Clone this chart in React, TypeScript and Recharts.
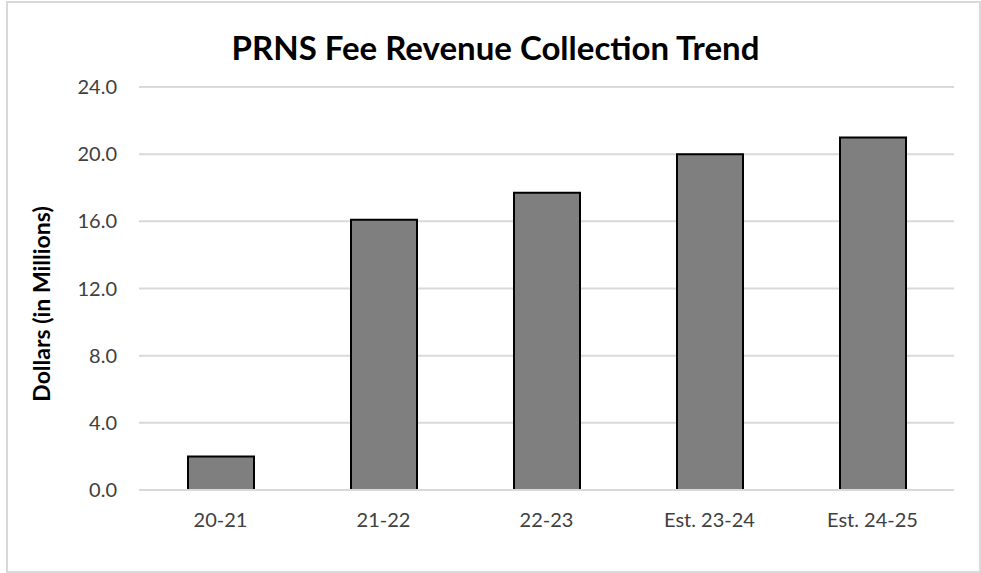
import React from "react";
import { BarChart, Bar, XAxis, YAxis, CartesianGrid } from "recharts";

const categories = ["20-21", "21-22", "22-23", "Est. 23-24", "Est. 24-25"];
const revenue = [2.0, 16.1, 17.7, 20.0, 21.0];
const yTicks = [0, 4, 8, 12, 16, 20, 24];

const data = categories.map((c, i) => ({ name: c, value: revenue[i] }));

const FONT = "Lato, 'Open Sans', sans-serif";

export default function App() {
  return (
    <div style={{ position: "absolute", left: 0, top: 0, width: 981, height: 573, background: "#fff", fontFamily: FONT }}>
      <div
        style={{
          position: "absolute",
          left: 6,
          top: 1,
          width: 971,
          height: 568,
          border: "2px solid #d9d9d9",
        }}
      />
      <div
        style={{
          position: "absolute",
          left: 0,
          width: 991,
          top: 27,
          textAlign: "center",
          fontSize: 33,
          fontWeight: 700,
          color: "#000",
          lineHeight: "40px",
        }}
      >
        PRNS Fee Revenue Collection Trend
      </div>
      <div
        style={{
          position: "absolute",
          left: 41,
          top: 304,
          transform: "translate(-50%, -50%) rotate(-90deg)",
          whiteSpace: "nowrap",
          fontSize: 23,
          fontWeight: 700,
          color: "#000",
        }}
      >
        Dollars (in Millions)
      </div>
      <div style={{ position: "absolute", left: 0, top: 0 }}>
        <BarChart
          width={981}
          height={573}
          data={data}
          margin={{ top: 87, right: 27, bottom: 32, left: 0 }}
        >
          <CartesianGrid vertical={false} stroke="#d9d9d9" strokeWidth={2} />
          <XAxis
            dataKey="name"
            axisLine={{ stroke: "#d9d9d9", strokeWidth: 2 }}
            tickLine={false}
            tickSize={0}
            tickMargin={23}
            height={51}
            tick={{ fill: "#404040", fontSize: 20, fontFamily: FONT }}
          />
          <YAxis
            width={139}
            domain={[0, 24]}
            ticks={yTicks}
            axisLine={false}
            tickLine={false}
            tickSize={0}
            tickMargin={22}
            tickFormatter={(v: number) => v.toFixed(1)}
            tick={{ fill: "#404040", fontSize: 20, fontFamily: FONT }}
          />
          <Bar
            dataKey="value"
            fill="#7f7f7f"
            stroke="#000"
            strokeWidth={2}
            barSize={66}
            isAnimationActive={false}
          />
        </BarChart>
      </div>
    </div>
  );
}
